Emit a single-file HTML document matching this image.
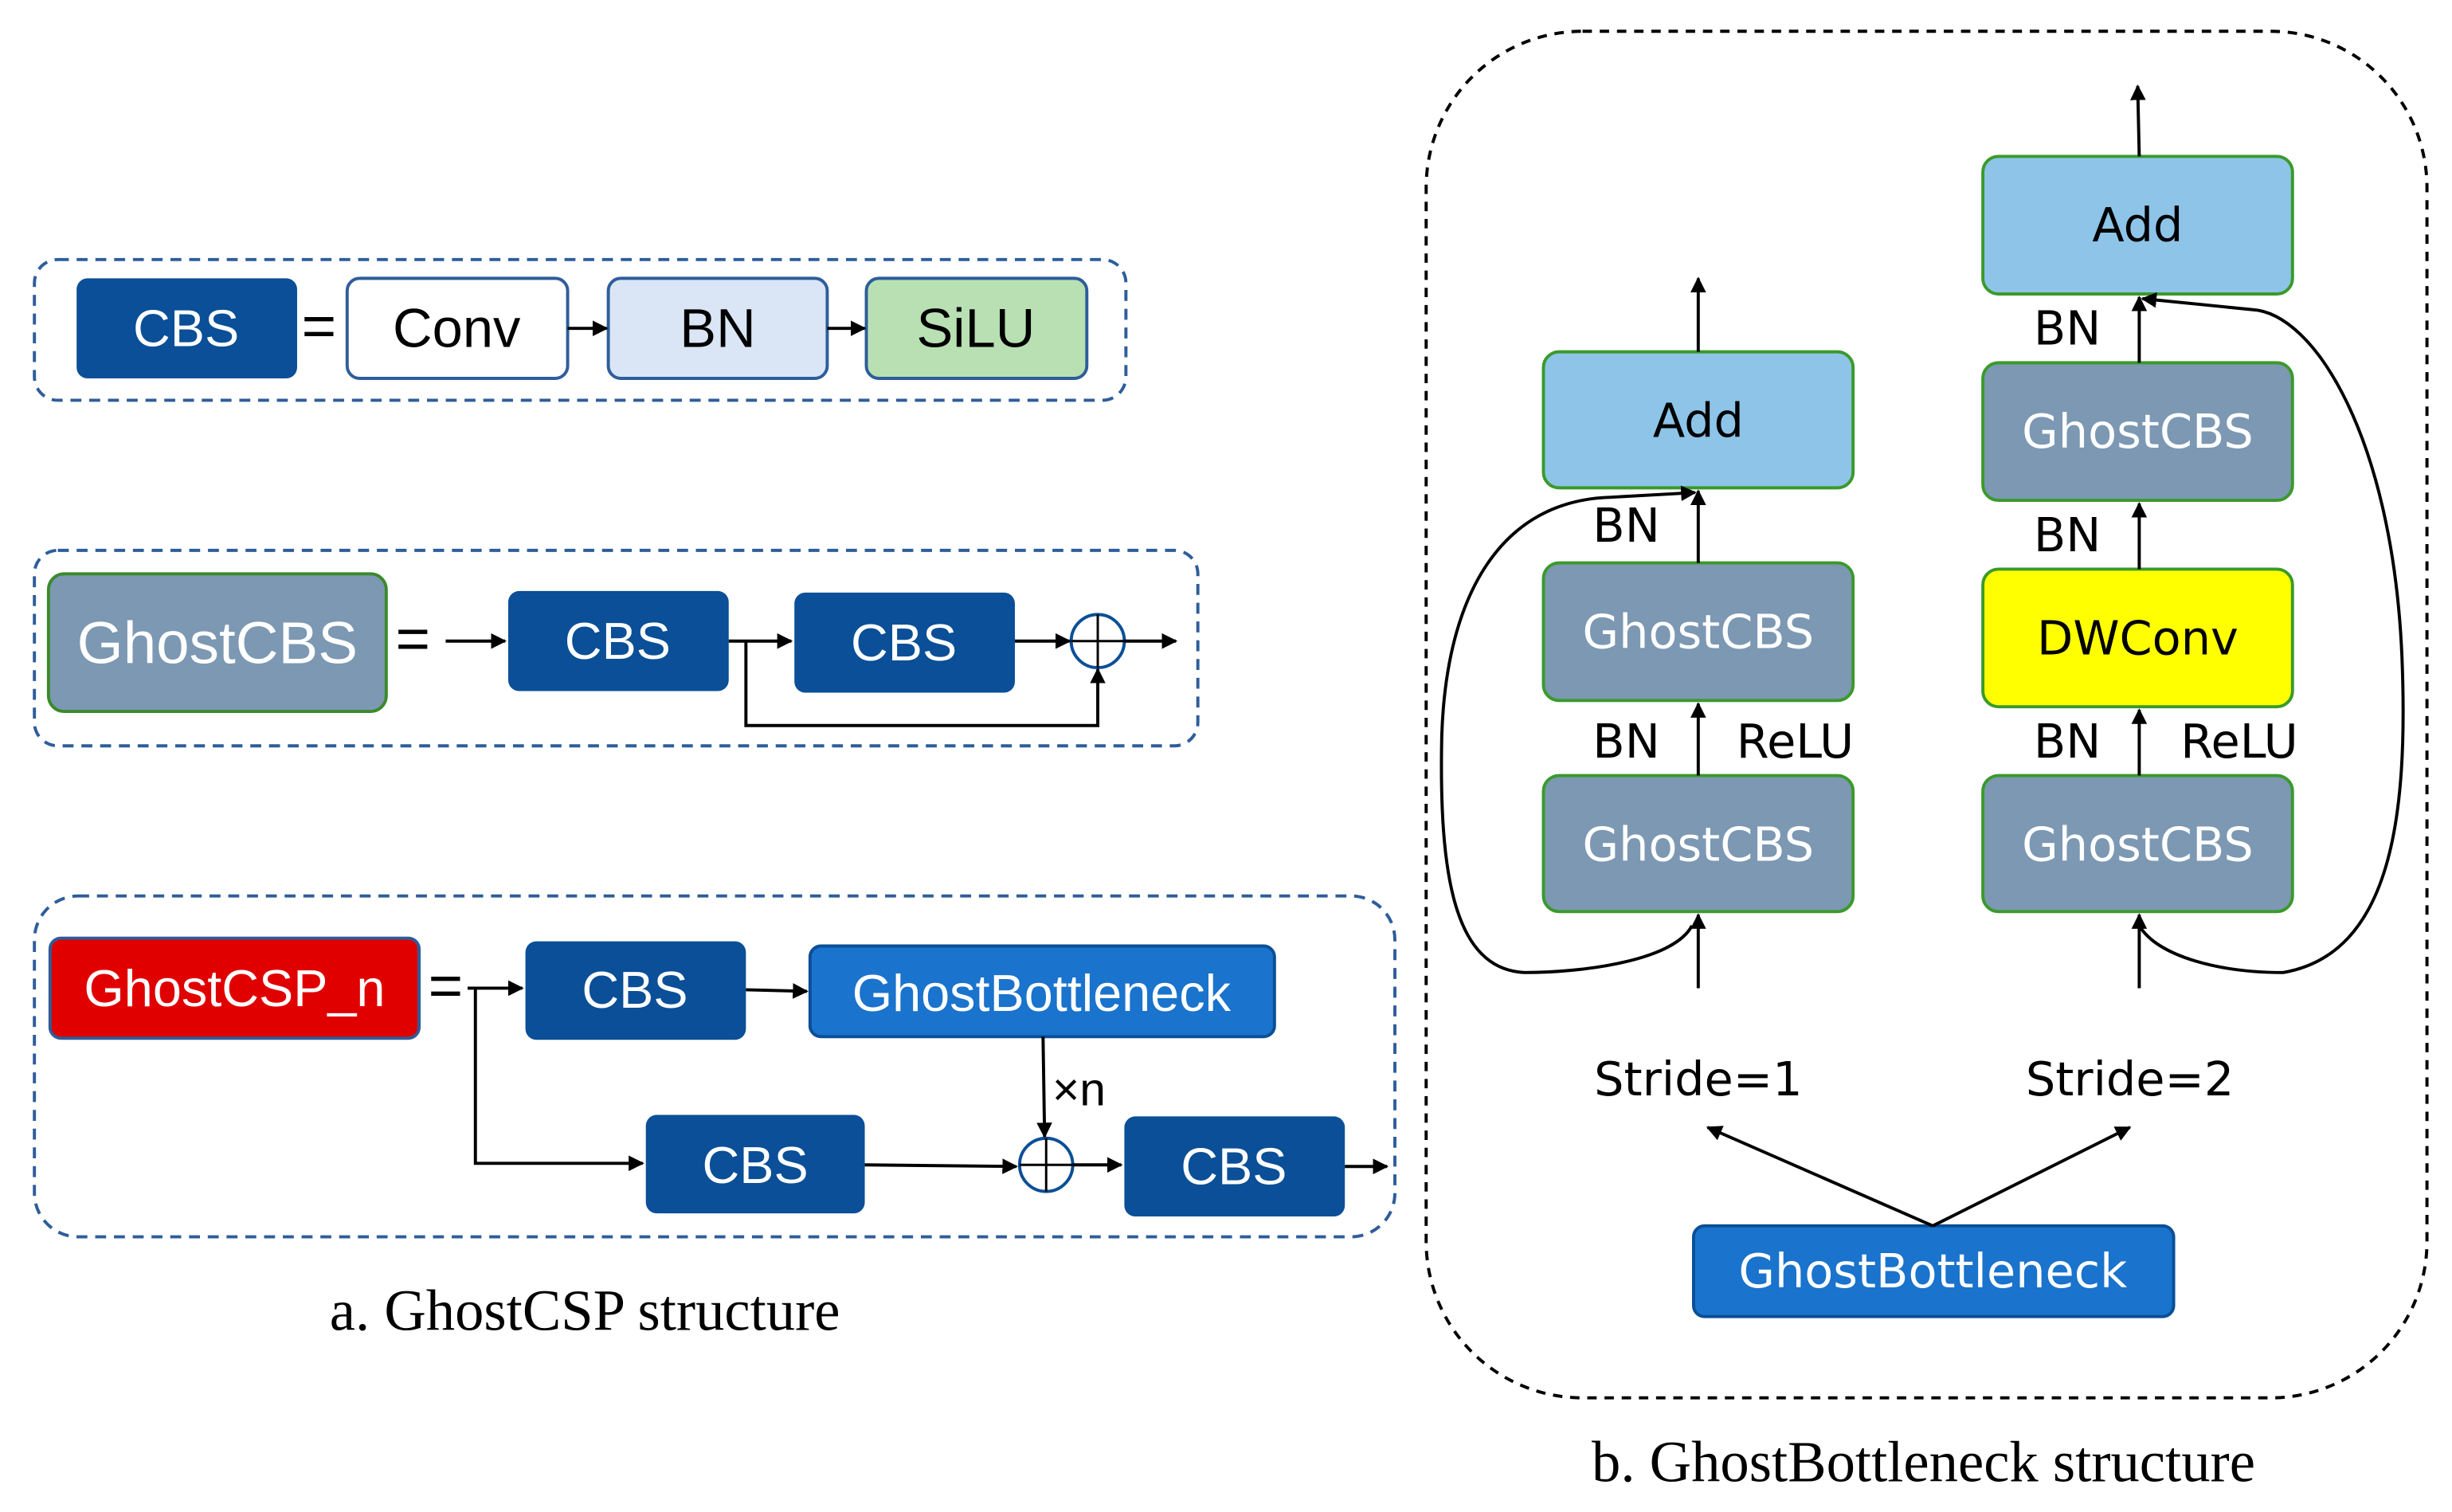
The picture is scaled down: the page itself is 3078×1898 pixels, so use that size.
<!DOCTYPE html>
<html><head><meta charset="utf-8"><style>html,body{margin:0;padding:0;background:#fff}svg{display:block}</style></head>
<body>
<svg width="3078" height="1898" viewBox="0 0 1568 967" preserveAspectRatio="none" xmlns="http://www.w3.org/2000/svg">
<defs>
<marker id="a" viewBox="0 0 10 10" refX="9" refY="5" markerWidth="5" markerHeight="5" orient="auto-start-reverse"><path d="M0,0L10,5L0,10z" fill="#000"/></marker>
</defs>
<g font-family="Liberation Sans, DejaVu Sans, sans-serif" text-anchor="middle" dominant-baseline="central">
<!-- panel 1 -->
<rect x="22" y="166" width="698" height="90" rx="15" fill="none" stroke="#2e5d9a" stroke-width="2" stroke-dasharray="7,5"/>
<rect x="49" y="178" width="141" height="64" rx="7" fill="#0a4f97"/>
<text x="119" y="210" font-size="33" fill="#fff">CBS</text>
<text x="204" y="208" font-size="38">=</text>
<rect x="222" y="178" width="141" height="64" rx="8" fill="#fff" stroke="#2e5d9a" stroke-width="2"/>
<text x="292" y="210" font-size="35">Conv</text>
<rect x="389" y="178" width="140" height="64" rx="8" fill="#dae6f5" stroke="#2e5d9a" stroke-width="2"/>
<text x="459" y="210" font-size="35">BN</text>
<rect x="554" y="178" width="141" height="64" rx="8" fill="#b8e0b3" stroke="#2e5d9a" stroke-width="2"/>
<text x="624" y="210" font-size="35">SiLU</text>
<g stroke="#000" stroke-width="2" marker-end="url(#a)"><line x1="363" y1="210" x2="388" y2="210"/><line x1="529" y1="210" x2="553" y2="210"/></g>
<!-- panel 2 -->
<rect x="22" y="352" width="744" height="125" rx="15" fill="none" stroke="#2e5d9a" stroke-width="2" stroke-dasharray="7,5"/>
<rect x="31" y="367" width="216" height="88" rx="10" fill="#7c98b3" stroke="#3a8a2a" stroke-width="2"/>
<text x="139" y="411" font-size="38" fill="#fff">GhostCBS</text>
<text x="264" y="408" font-size="38">=</text>
<rect x="325" y="378" width="141" height="64" rx="7" fill="#0a4f97"/>
<text x="395" y="410" font-size="33" fill="#fff">CBS</text>
<rect x="508" y="379" width="141" height="64" rx="7" fill="#0a4f97"/>
<text x="578" y="411" font-size="33" fill="#fff">CBS</text>
<circle cx="702" cy="410" r="17" fill="#fff" stroke="#0a4f97" stroke-width="2"/>
<line x1="685" y1="410" x2="719" y2="410" stroke="#000" stroke-width="1.5"/><line x1="702" y1="393" x2="702" y2="427" stroke="#000" stroke-width="1.5"/>
<g stroke="#000" stroke-width="2" fill="none" marker-end="url(#a)">
<line x1="285" y1="410" x2="323" y2="410"/><line x1="466" y1="410" x2="506" y2="410"/><line x1="649" y1="410" x2="684" y2="410"/><line x1="719" y1="410" x2="752" y2="410"/>
<polyline points="477,410 477,464 702,464 702,428"/></g>
<!-- panel 3 -->
<rect x="22" y="573" width="870" height="218" rx="28" fill="none" stroke="#2e5d9a" stroke-width="2" stroke-dasharray="7,5"/>
<rect x="32" y="600" width="236" height="64" rx="7" fill="#e00000" stroke="#2e5d9a" stroke-width="2"/>
<text x="150" y="632" font-size="33" fill="#fff">GhostCSP_n</text>
<text x="285" y="630" font-size="38">=</text>
<rect x="336" y="602" width="141" height="63" rx="7" fill="#0a4f97"/>
<text x="406" y="633" font-size="33" fill="#fff">CBS</text>
<rect x="518" y="605" width="297" height="58" rx="7" fill="#1a73cc" stroke="#0a4f97" stroke-width="2"/>
<text x="666" y="635" font-size="33" fill="#fff">GhostBottleneck</text>
<rect x="413" y="713" width="140" height="63" rx="7" fill="#0a4f97"/>
<text x="483" y="745" font-size="33" fill="#fff">CBS</text>
<rect x="719" y="714" width="141" height="64" rx="7" fill="#0a4f97"/>
<text x="789" y="746" font-size="33" fill="#fff">CBS</text>
<circle cx="669" cy="745" r="17" fill="#fff" stroke="#0a4f97" stroke-width="2"/>
<line x1="652" y1="745" x2="686" y2="745" stroke="#000" stroke-width="1.5"/><line x1="669" y1="728" x2="669" y2="762" stroke="#000" stroke-width="1.5"/>
<text x="690" y="697" font-size="30">×n</text>
<g stroke="#000" stroke-width="2" fill="none" marker-end="url(#a)">
<polyline points="299,632 304,632 334,632"/><polyline points="304,632 304,744 411,744"/>
<line x1="477" y1="633" x2="516" y2="634"/><line x1="667" y1="663" x2="668" y2="727"/>
<line x1="553" y1="745" x2="650" y2="746"/><line x1="686" y1="745" x2="717" y2="745"/><line x1="860" y1="746" x2="887" y2="746"/></g>
<text x="374" y="838" font-size="37" font-family="Liberation Serif, serif">a. GhostCSP structure</text>
</g>
<!-- right panel -->
<g font-family="DejaVu Sans, Liberation Sans, sans-serif" text-anchor="middle" dominant-baseline="central">
<rect x="912" y="20" width="640" height="874" rx="100" fill="none" stroke="#000" stroke-width="2" stroke-dasharray="6,5"/>
<rect x="987" y="225" width="198" height="87" rx="10" fill="#8dc4e8" stroke="#3a9a2a" stroke-width="2"/>
<text x="1086" y="269" font-size="30">Add</text>
<rect x="987" y="360" width="198" height="88" rx="10" fill="#7c98b3" stroke="#3a9a2a" stroke-width="2"/>
<text x="1086" y="404" font-size="30" fill="#fff">GhostCBS</text>
<rect x="987" y="496" width="198" height="87" rx="10" fill="#7c98b3" stroke="#3a9a2a" stroke-width="2"/>
<text x="1086" y="540" font-size="30" fill="#fff">GhostCBS</text>
<rect x="1268" y="100" width="198" height="88" rx="10" fill="#8dc4e8" stroke="#3a9a2a" stroke-width="2"/>
<text x="1367" y="144" font-size="30">Add</text>
<rect x="1268" y="232" width="198" height="88" rx="10" fill="#7c98b3" stroke="#3a9a2a" stroke-width="2"/>
<text x="1367" y="276" font-size="30" fill="#fff">GhostCBS</text>
<rect x="1268" y="364" width="198" height="88" rx="10" fill="#ffff00" stroke="#3a9a2a" stroke-width="2"/>
<text x="1367" y="408" font-size="30">DWConv</text>
<rect x="1268" y="496" width="198" height="87" rx="10" fill="#7c98b3" stroke="#3a9a2a" stroke-width="2"/>
<text x="1367" y="540" font-size="30" fill="#fff">GhostCBS</text>
<g font-size="30">
<text x="1040" y="336">BN</text><text x="1040" y="474">BN</text><text x="1148" y="474">ReLU</text>
<text x="1322" y="210">BN</text><text x="1322" y="342">BN</text><text x="1322" y="474">BN</text><text x="1432" y="474">ReLU</text>
<text x="1086" y="690">Stride=1</text><text x="1362" y="690">Stride=2</text></g>
<rect x="1083" y="784" width="307" height="58" rx="7" fill="#1a73cc" stroke="#0a4f97" stroke-width="2"/>
<text x="1236" y="813" font-size="30" fill="#fff">GhostBottleneck</text>
<g stroke="#000" stroke-width="2" fill="none" marker-end="url(#a)">
<line x1="1086" y1="225" x2="1086" y2="178"/><line x1="1086" y1="360" x2="1086" y2="314"/><line x1="1086" y1="496" x2="1086" y2="450"/><line x1="1086" y1="632" x2="1086" y2="585"/>
<line x1="1368" y1="100" x2="1367" y2="55"/><line x1="1368" y1="232" x2="1368" y2="190"/><line x1="1368" y1="364" x2="1368" y2="322"/><line x1="1368" y1="496" x2="1368" y2="454"/><line x1="1368" y1="632" x2="1368" y2="585"/>
<path d="M1082,592 C1070,615 1010,622 975,622 C930,620 920,560 922,470 C925,380 960,320 1030,318 L1084,315"/>
<path d="M1368,592 C1380,612 1420,622 1460,622 C1530,610 1540,520 1536,420 C1530,280 1480,200 1440,198 L1370,191"/>
<line x1="1236" y1="784" x2="1092" y2="721"/><line x1="1236" y1="784" x2="1362" y2="721"/></g>
<text x="1230" y="935" font-size="37" font-family="Liberation Serif, serif">b. GhostBottleneck structure</text>
</g>
</svg>
</body></html>
